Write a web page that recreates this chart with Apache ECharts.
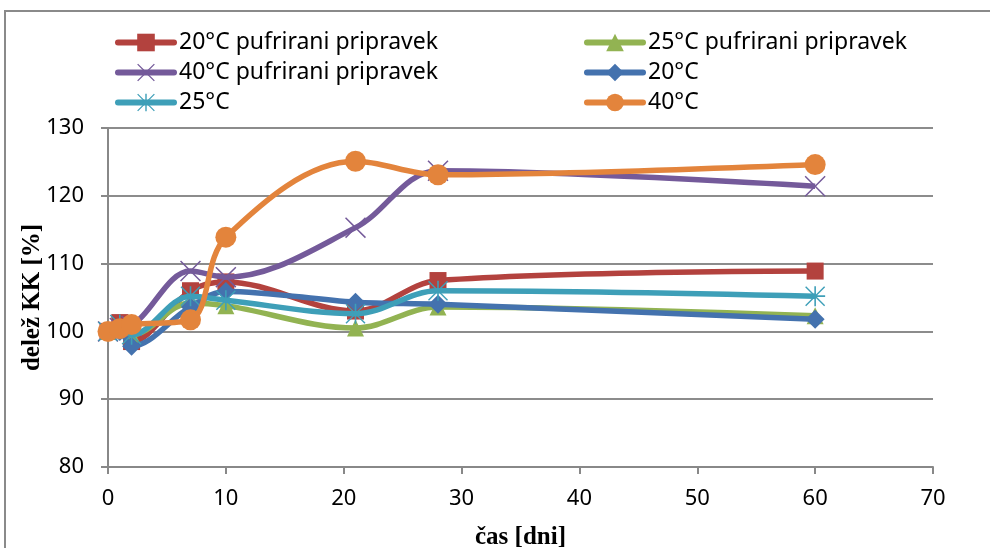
<!DOCTYPE html>
<html><head><meta charset="utf-8">
<script src="https://cdn.jsdelivr.net/npm/echarts@6/dist/echarts.min.js"></script>
<style>html,body{margin:0;padding:0;background:#fff}#c{width:990px;height:548px}</style>
</head><body><div id="c"></div>
<script>
var days = [0, 1, 2, 7, 10, 21, 28, 60];
var seriesNames = ['20°C pufrirani pripravek', '25°C pufrirani pripravek', '40°C pufrirani pripravek', '20°C', '25°C', '40°C'];
var s20p = [100, 101.3, 98.5, 106, 107.3, 103, 107.5, 108.9];
var s25p = [100, 100.5, 99.5, 104.2, 103.8, 100.5, 103.6, 102.3];
var s40p = [100, 100.5, 100.8, 108.9, 108, 115.3, 123.7, 121.4];
var s20 = [100, 100, 97.8, 103.6, 105.9, 104.3, 104, 101.8];
var s25 = [100, 101, 99.5, 105.2, 104.6, 102.6, 106, 105.2];
var s40 = [100, 100.4, 101, 101.7, 113.9, 125.1, 123.1, 124.6];
var yTicks = [80, 90, 100, 110, 120, 130];
var xTicks = [0, 10, 20, 30, 40, 50, 60, 70];
var legendCol1 = [seriesNames[0], seriesNames[2], seriesNames[4]];
var legendCol2 = [seriesNames[1], seriesNames[3], seriesNames[5]];

var colors = ['#B3423E', '#92B352', '#745A9A', '#4472AE', '#3E9FB8', '#E3843C'];
var xPath = 'path://M1,0 L10,9 L19,0 L20,1 L11,10 L20,19 L19,20 L10,11 L1,20 L0,19 L9,10 L0,1 Z';
var starPath = 'path://M9.2,0 L10.8,0 L10.8,20 L9.2,20 Z M0,9.2 L20,9.2 L20,10.8 L0,10.8 Z M1,0 L20,19 L19,20 L0,1 Z M19,0 L20,1 L1,20 L0,19 Z';
var symbols = ['rect', 'triangle', xPath, 'diamond', starPath, 'circle'];
var sizes = [17, 17, 21, 19, 20, 21];
var datas = [s20p, s25p, s40p, s20, s25, s40];

function pairs(arr) { return days.map(function (d, i) { return [d, arr[i]]; }); }

var series = seriesNames.map(function (n, i) {
  return {
    name: n, type: 'line', data: pairs(datas[i]), smooth: 0.35,
    symbol: symbols[i], symbolSize: sizes[i], showAllSymbol: true,
    lineStyle: { width: 5.5, color: colors[i] },
    itemStyle: { color: colors[i], opacity: 1 },
    emphasis: { disabled: true }, z: 2 + i
  };
});

var chart = echarts.init(document.getElementById('c'));
var legendText = { fontFamily: 'Noto Sans', fontSize: 23, color: '#000' };
var legendBase = { orient: 'vertical', top: 26, itemWidth: 56, itemHeight: 22, itemGap: 7, textStyle: legendText, lineStyle: { width: 6, cap: 'round' } };
chart.setOption({
  animation: false,
  backgroundColor: '#fff',
  color: colors,
  graphic: [{ type: 'rect', shape: { x: 5, y: 11, width: 1000, height: 600 }, style: { fill: 'none', stroke: '#8a8a8a', lineWidth: 2 }, silent: true }],
  legend: [
    Object.assign({ data: legendCol1, left: 110 }, legendBase),
    Object.assign({ data: legendCol2, left: 579 }, legendBase)
  ],
  grid: { left: 108, right: 57, top: 128, bottom: 81, containLabel: false, outerBoundsMode: 'none' },
  xAxis: {
    type: 'value', min: xTicks[0], max: xTicks[xTicks.length - 1], interval: 10,
    name: 'čas [dni]', nameLocation: 'middle', nameGap: 58,
    nameTextStyle: { fontFamily: 'Liberation Serif', fontWeight: 'bold', fontSize: 25, color: '#000' },
    axisLine: { show: true, lineStyle: { color: '#888', width: 2 } },
    axisTick: { show: true, length: 7, lineStyle: { color: '#888', width: 2 } },
    axisLabel: { margin: 21, fontFamily: 'Noto Sans', fontSize: 22, color: '#000' },
    splitLine: { show: false }
  },
  yAxis: {
    type: 'value', min: yTicks[0], max: yTicks[yTicks.length - 1], interval: 10,
    name: 'delež KK [%]', nameLocation: 'middle', nameGap: 63, nameRotate: 90, nameMoveOverlap: false,
    nameTextStyle: { fontFamily: 'Liberation Serif', fontWeight: 'bold', fontSize: 25, color: '#000' },
    axisLine: { show: true, lineStyle: { color: '#888', width: 2 } },
    axisTick: { show: true, inside: false, length: 7, lineStyle: { color: '#888', width: 2 } },
    axisLabel: { margin: 24, fontFamily: 'Noto Sans', fontSize: 22, color: '#000' },
    splitLine: { show: true, lineStyle: { color: '#8c8c8c', width: 2 } }
  },
  series: series
});
</script></body></html>
